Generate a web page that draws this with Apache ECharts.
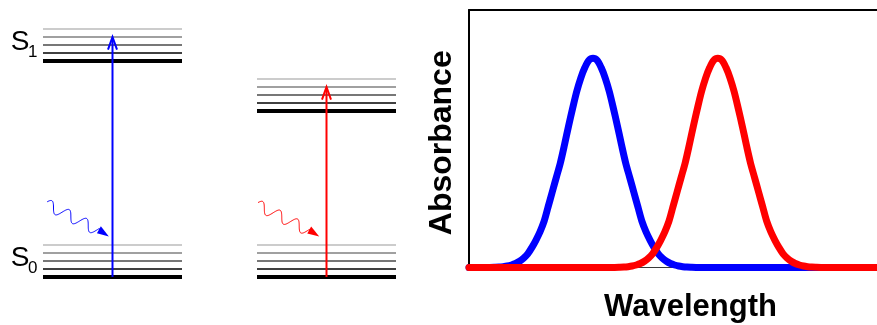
<!DOCTYPE html>
<html><head><meta charset="utf-8">
<script src="https://cdn.jsdelivr.net/npm/echarts@6/dist/echarts.min.js"></script>
<style>html,body{margin:0;padding:0;background:#fff}#c{width:877px;height:325px}</style>
</head><body><div id="c"></div>
<script>
// ---------------- data ----------------
// absorption spectra (arbitrary wavelength units, normalised absorbance)
const wavelengthBlue = [0, 4.4, 6.4, 7.4, 8.4, 9.4, 10.4, 11.4, 12.4, 13.4, 14.4, 15.4, 16.4, 17.4, 18.4, 19.4, 20.4, 21.4, 22.4, 23.4, 24.4, 25.4, 26.4, 27.4, 28.4, 29.4, 30.4,
  31.4, 32.4, 33.4, 34.4, 35.4, 36.4, 37.4, 38.4, 39.4, 40.4, 41.4, 42.4, 43.4, 44.4, 45.4, 46.4, 47.4, 48.4, 49.4, 50.4, 51.4, 52.4, 53.4, 54.4, 56.4, 70, 108.6];
const absorbanceBlue = [0, 0, 0.001, 0.002, 0.004, 0.007, 0.012, 0.019, 0.03, 0.045, 0.065, 0.095, 0.13, 0.17, 0.22, 0.29, 0.36, 0.43, 0.50, 0.585, 0.675, 0.76, 0.84, 0.905, 0.955, 0.99, 1.0,
  0.99, 0.955, 0.905, 0.84, 0.76, 0.675, 0.585, 0.50, 0.43, 0.36, 0.29, 0.22, 0.17, 0.13, 0.095, 0.065, 0.045, 0.03, 0.019, 0.012, 0.007, 0.004, 0.002, 0.001, 0, 0, 0];
const wavelengthRed = [0, 35, 37, 38, 39, 40, 41, 42, 43, 44, 45, 46, 47, 48, 49, 50, 51, 52, 53, 54, 55, 56, 57, 58, 59, 60, 61,
  62, 63, 64, 65, 66, 67, 68, 69, 70, 71, 72, 73, 74, 75, 76, 77, 78, 79, 80, 81, 82, 83, 84, 85, 87, 95, 108.6];
const absorbanceRed = [0, 0, 0.001, 0.002, 0.004, 0.007, 0.012, 0.019, 0.03, 0.045, 0.065, 0.095, 0.13, 0.17, 0.22, 0.29, 0.36, 0.43, 0.50, 0.585, 0.675, 0.76, 0.84, 0.905, 0.955, 0.99, 1.0,
  0.99, 0.955, 0.905, 0.84, 0.76, 0.675, 0.585, 0.50, 0.43, 0.36, 0.29, 0.22, 0.17, 0.13, 0.095, 0.065, 0.045, 0.03, 0.019, 0.012, 0.007, 0.004, 0.002, 0.001, 0, 0, 0];

// Jablonski diagrams (two molecules), energies in arbitrary units
const vibLevels = [0, 1, 2, 3, 4];            // vibrational sub-levels
const groundEnergy = [0, 0];                  // S0 of diagram 1, 2
const excitedEnergy = [27, 20.75];            // S1 of diagram 1, 2
const excitationTarget = [3, 3];              // vibrational level reached by the excitation arrow
const photonStartX = [-0.305, -0.32];         // incoming photon (offset from diagram centre)
const photonEndX = [-0.017, -0.034];
const photonStartE = [9.4, 9.3];
const photonEndE = [5.05, 5.05];
const stateLabels = ['S', 'S'];
const stateSubs = ['1', '0'];
const xAxisTitle = 'Wavelength';
const yAxisTitle = 'Absorbance';

// ---------------- styles / layout ----------------
const diagramColors = ['#0000ff', '#ff0000'];
const levelColors = ['#000000', '#404040', '#777777', '#a0a0a0', '#cccccc'];
const levelWidths = [4, 2, 2, 2, 2];
const FONT = '"Liberation Sans", Arial, Helvetica, sans-serif';
const DIAG_UNIT = 214;           // px between diagram centres
const DIAG_FIRST_PX = 112.5;     // px of diagram 1 centre
const LEVEL_HALF = 69.5 / DIAG_UNIT;

const levelData = [];
[groundEnergy, excitedEnergy].forEach(function (base) {
  base.forEach(function (b, d) {
    vibLevels.forEach(function (v, i) { levelData.push([d + 1, b + v, i]); });
  });
});
const arrowData = groundEnergy.map(function (g, d) {
  return [d + 1, g, excitedEnergy[d] + vibLevels[excitationTarget[d]]];
});
const photonData = photonStartX.map(function (sx, d) {
  return [d + 1, photonStartE[d], sx, photonEndX[d], photonEndE[d]];
});

function renderLevel(params, api) {
  const c = api.coord([api.value(0), api.value(1)]);
  const hw = api.size([LEVEL_HALF, 0])[0];
  const v = api.value(2);
  return { type: 'line', shape: { x1: c[0] - hw, y1: c[1], x2: c[0] + hw, y2: c[1] },
    style: { stroke: levelColors[v], lineWidth: levelWidths[v] } };
}
function renderArrow(params, api) {
  const d = api.value(0);
  const p0 = api.coord([d, api.value(1)]);
  const p1 = api.coord([d, api.value(2)]);
  const col = diagramColors[params.dataIndex];
  return { type: 'group', children: [
    { type: 'line', shape: { x1: p0[0], y1: p0[1], x2: p1[0], y2: p1[1] + 1 }, style: { stroke: col, lineWidth: 2 } },
    { type: 'polyline', shape: { points: [[p1[0] - 4.5, p1[1] + 12.7], [p1[0], p1[1]], [p1[0] + 4.5, p1[1] + 12.7]] },
      style: { stroke: col, lineWidth: 2, fill: null, lineJoin: 'miter' } }
  ] };
}
function renderPhoton(params, api) {
  const d = api.value(0);
  const p0 = api.coord([d + api.value(2), api.value(1)]);
  const p1 = api.coord([d + api.value(3), api.value(4)]);
  const col = diagramColors[params.dataIndex];
  const dx = p1[0] - p0[0], dy = p1[1] - p0[1];
  const L = Math.sqrt(dx * dx + dy * dy);
  const ux = dx / L, uy = dy / L;
  const nx = uy, ny = -ux;
  const head = 12, halfW = 5, amp = 5.5, lambda = 19.5, phase = 0.45;
  const wl = L - head;
  const pts = [];
  for (let t = 0; t <= wl; t += 0.5) {
    const s = amp * Math.sin(2 * Math.PI * t / lambda + phase) - amp * Math.sin(phase) * (1 - t / wl);
    pts.push([p0[0] + ux * t + nx * s, p0[1] + uy * t + ny * s]);
  }
  const bx = p1[0] - ux * head, by = p1[1] - uy * head;
  pts.push([bx + ux * 2, by + uy * 2]);
  return { type: 'group', children: [
    { type: 'polyline', shape: { points: pts }, style: { stroke: col, lineWidth: 1, fill: null } },
    { type: 'polygon', shape: { points: [[p1[0], p1[1]], [bx + nx * halfW, by + ny * halfW], [bx - nx * halfW * 0.6, by - ny * halfW * 0.6]] },
      style: { fill: col } }
  ] };
}

const chart = echarts.init(document.getElementById('c'), null, { renderer: 'canvas' });
const diagMin = 1 - DIAG_FIRST_PX / DIAG_UNIT;
chart.setOption({
  animation: false,
  backgroundColor: '#fff',
  grid: [
    { left: 0, top: 0, width: 420, height: 325, show: false, outerBoundsMode: 'none', containLabel: false },
    { left: 469, top: 10, right: -35, bottom: 57.5, show: false, outerBoundsMode: 'none', containLabel: false }
  ],
  xAxis: [
    { gridIndex: 0, type: 'value', min: diagMin, max: diagMin + 420 / DIAG_UNIT, show: false },
    { gridIndex: 1, type: 'value', min: 0, max: 108.6, axisLine: { show: true, onZero: false, lineStyle: { color: '#3a3a3a', width: 1 } },
      axisTick: { show: false }, axisLabel: { show: false }, splitLine: { show: false },
      name: xAxisTitle, nameLocation: 'middle', nameGap: 24,
      nameTextStyle: { fontFamily: FONT, fontSize: 31, fontWeight: 'bold', color: '#000' } },
    { gridIndex: 1, type: 'value', position: 'top', min: 0, max: 108.6, axisLine: { show: true, onZero: false, lineStyle: { color: '#000', width: 2 } },
      axisTick: { show: false }, axisLabel: { show: false }, splitLine: { show: false } }
  ],
  yAxis: [
    { gridIndex: 0, type: 'value', min: -6, max: 34.625, show: false },
    { gridIndex: 1, type: 'value', min: 0, max: 1.23, axisLine: { show: true, onZero: false, lineStyle: { color: '#000', width: 2 } },
      axisTick: { show: false }, axisLabel: { show: false }, splitLine: { show: false },
      name: yAxisTitle, nameLocation: 'middle', nameGap: 11, nameRotate: 90,
      nameTextStyle: { fontFamily: FONT, fontSize: 32, fontWeight: 'bold', color: '#000', padding: [0, 8, 0, 0] } }
  ],
  series: [
    { type: 'custom', xAxisIndex: 0, yAxisIndex: 0, renderItem: renderLevel, data: levelData, silent: true },
    { type: 'custom', xAxisIndex: 0, yAxisIndex: 0, renderItem: renderArrow, data: arrowData, silent: true },
    { type: 'custom', xAxisIndex: 0, yAxisIndex: 0, renderItem: renderPhoton, data: photonData, silent: true },
    { type: 'line', xAxisIndex: 1, yAxisIndex: 1, name: 'blue', showSymbol: false, symbol: 'none', smooth: 0.3, clip: false,
      lineStyle: { color: '#0000ff', width: 7, cap: 'round', join: 'round' },
      data: wavelengthBlue.map(function (x, i) { return [x, absorbanceBlue[i]]; }) },
    { type: 'line', xAxisIndex: 1, yAxisIndex: 1, name: 'red', showSymbol: false, symbol: 'none', smooth: 0.3, clip: false,
      lineStyle: { color: '#ff0000', width: 7, cap: 'round', join: 'round' },
      data: wavelengthRed.map(function (x, i) { return [x, absorbanceRed[i]]; }) }
  ],
  graphic: [
    { type: 'text', x: 10.7, y: 42, style: { text: stateLabels[0], fontFamily: FONT, fontSize: 28, fill: '#000', verticalAlign: 'middle' } },
    { type: 'text', x: 28, y: 52.5, style: { text: stateSubs[0], fontFamily: FONT, fontSize: 17, fill: '#000', verticalAlign: 'middle' } },
    { type: 'text', x: 10.7, y: 258.5, style: { text: stateLabels[1], fontFamily: FONT, fontSize: 28, fill: '#000', verticalAlign: 'middle' } },
    { type: 'text', x: 28, y: 268, style: { text: stateSubs[1], fontFamily: FONT, fontSize: 17, fill: '#000', verticalAlign: 'middle' } }
  ]
});
</script>
</body></html>
